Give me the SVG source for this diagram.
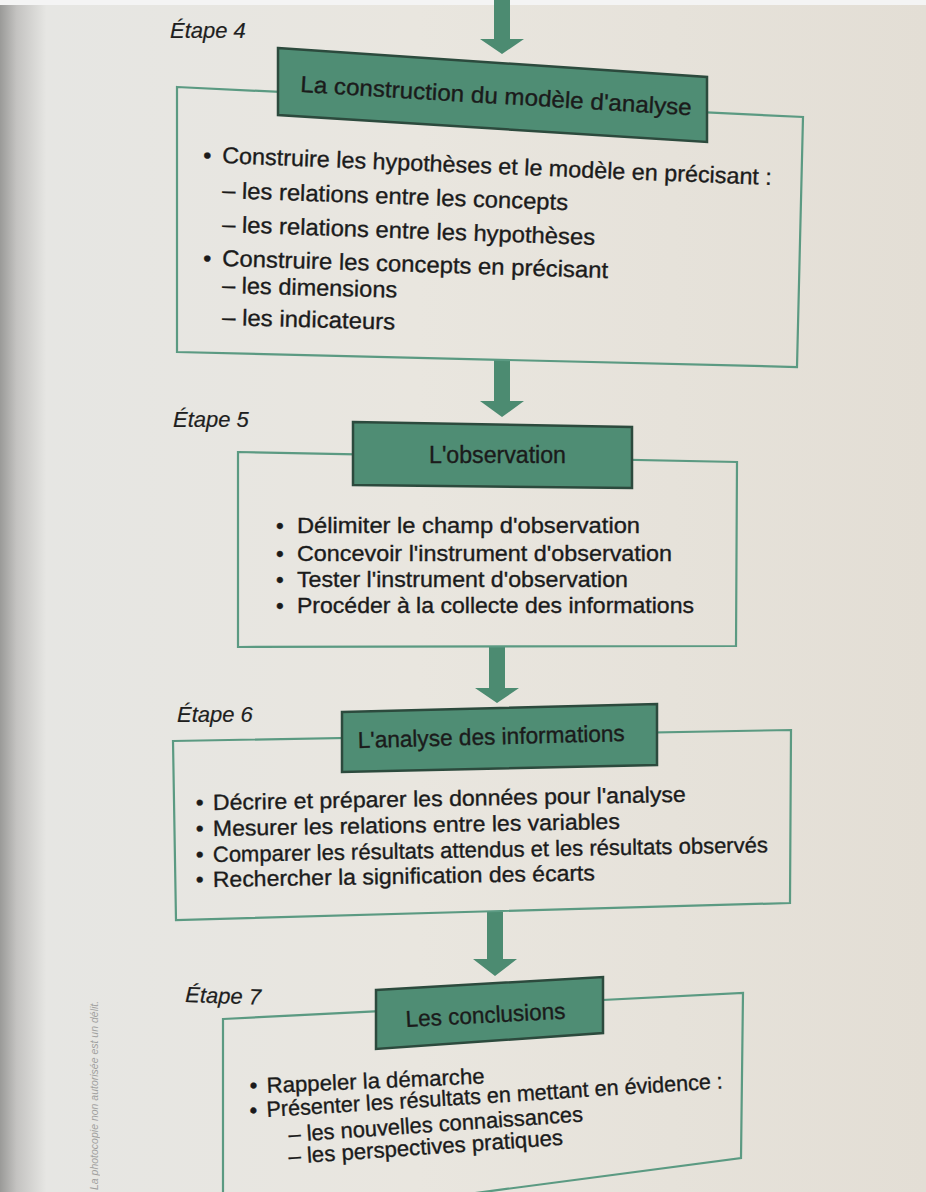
<svg xmlns="http://www.w3.org/2000/svg" width="926" height="1192" viewBox="0 0 926 1192">
<defs>
<linearGradient id="page" x1="0" y1="0" x2="1" y2="0">
<stop offset="0" stop-color="#9a9a98"/>
<stop offset="0.018" stop-color="#c4c3c1"/>
<stop offset="0.05" stop-color="#e6e6e3"/>
<stop offset="0.45" stop-color="#e9e6df"/>
<stop offset="1" stop-color="#e3ded5"/>
</linearGradient>
<style>
.outer{fill:none;stroke:#5b9a82;stroke-width:2.2}
.title{fill:#4f8d74;stroke:#2c4a3d;stroke-width:2.5}
.arrow{fill:#4c8b71}
.t{font-family:"Liberation Sans",Arial,sans-serif;fill:#1b1b1b;stroke:#1b1b1b;stroke-width:0.35}
.c4{font-size:23px}
.c{font-size:22px}
.h{font-size:23px}
.e{font-family:"Liberation Sans",Arial,sans-serif;font-style:italic;font-size:22px;fill:#1e1e1e;stroke:#1e1e1e;stroke-width:0.2}
</style>
</defs>
<rect x="0" y="0" width="926" height="1192" fill="url(#page)"/>
<rect x="0" y="0" width="926" height="5" fill="#f4f4f4"/>
<text x="0" y="0" transform="translate(98,1190) rotate(-90)" font-family="Liberation Sans, Arial, sans-serif" font-size="10.5" font-style="italic" fill="#7a7a7a" opacity="0.65">La photocopie non autorisée est un délit.</text>

<g id="connectors">
<polygon class="arrow" points="494,0 510,0 510,39 524,39 502,54 480,39 494,39"/>
<polygon class="arrow" points="494,360 510,360 510,401 524,401 502,417 480,401 494,401"/>
<polygon class="arrow" points="489,647 505,647 505,688 519,688 497,703 475,688 489,688"/>
<polygon class="arrow" points="487,912 503,912 503,959 517,959 495,976 473,959 487,959"/>
</g>

<g id="step4">
<text class="e" x="170" y="38">Étape 4</text>
<polygon class="outer" points="177,87 803,117 797,367 177,352"/>
<polygon class="title" points="278,48 707,77 707,142 278,115"/>
<text class="t h" x="300" y="92" transform="rotate(3.4 300 92)" textLength="392" lengthAdjust="spacingAndGlyphs">La construction du modèle d'analyse</text>
<g class="t c4">
<text x="203" y="163" transform="rotate(2.3 203 163)">•</text>
<text x="222" y="163" transform="rotate(2.3 222 163)" textLength="550" lengthAdjust="spacingAndGlyphs">Construire les hypothèses et le modèle en précisant :</text>
<text x="222" y="198" transform="rotate(2 222 198)" textLength="346" lengthAdjust="spacingAndGlyphs">– les relations entre les concepts</text>
<text x="222" y="232" transform="rotate(2 222 232)" textLength="373" lengthAdjust="spacingAndGlyphs">– les relations entre les hypothèses</text>
<text x="203" y="266" transform="rotate(1.8 203 266)">•</text>
<text x="222" y="266" transform="rotate(1.8 222 266)" textLength="386" lengthAdjust="spacingAndGlyphs">Construire les concepts en précisant</text>
<text x="222" y="293" transform="rotate(1.5 222 293)" textLength="175" lengthAdjust="spacingAndGlyphs">– les dimensions</text>
<text x="222" y="325" transform="rotate(1.5 222 325)" textLength="173" lengthAdjust="spacingAndGlyphs">– les indicateurs</text>
</g>
</g>

<g id="step5">
<text class="e" x="173" y="427">Étape 5</text>
<polygon class="outer" points="238,452 737,462 736,646 238,647"/>
<polygon class="title" points="353,422 632,427 632,488 353,485"/>
<text class="t h" x="429" y="463" textLength="137" lengthAdjust="spacingAndGlyphs">L'observation</text>
<g class="t c">
<text x="276" y="533">•</text>
<text x="297" y="533" textLength="343" lengthAdjust="spacingAndGlyphs">Délimiter le champ d'observation</text>
<text x="276" y="561">•</text>
<text x="297" y="561" textLength="375" lengthAdjust="spacingAndGlyphs">Concevoir l'instrument d'observation</text>
<text x="276" y="587">•</text>
<text x="297" y="587" textLength="331" lengthAdjust="spacingAndGlyphs">Tester l'instrument d'observation</text>
<text x="276" y="613">•</text>
<text x="297" y="613" textLength="397" lengthAdjust="spacingAndGlyphs">Procéder à la collecte des informations</text>
</g>
</g>

<g id="step6">
<text class="e" x="177" y="722">Étape 6</text>
<polygon class="outer" points="173,741 791,730 790,903 176,920"/>
<polygon class="title" points="342,712 657,704 657,765 342,772"/>
<text class="t h" x="358" y="748" transform="rotate(-1.5 358 748)" textLength="267" lengthAdjust="spacingAndGlyphs">L'analyse des informations</text>
<g class="t c">
<text x="196" y="810" transform="rotate(-1 196 810)">•</text>
<text x="213" y="810" transform="rotate(-1 213 810)" textLength="473" lengthAdjust="spacingAndGlyphs">Décrire et préparer les données pour l'analyse</text>
<text x="196" y="836" transform="rotate(-1 196 836)">•</text>
<text x="213" y="836" transform="rotate(-1 213 836)" textLength="407" lengthAdjust="spacingAndGlyphs">Mesurer les relations entre les variables</text>
<text x="196" y="862" transform="rotate(-1 196 862)">•</text>
<text x="213" y="862" transform="rotate(-1 213 862)" textLength="555" lengthAdjust="spacingAndGlyphs">Comparer les résultats attendus et les résultats observés</text>
<text x="196" y="887" transform="rotate(-1 196 887)">•</text>
<text x="213" y="887" transform="rotate(-1 213 887)" textLength="382" lengthAdjust="spacingAndGlyphs">Rechercher la signification des écarts</text>
</g>
</g>

<g id="step7">
<text class="e" x="185" y="1002" transform="rotate(2 185 1002)">Étape 7</text>
<polygon class="outer" points="223,1019 743,993 741,1158 400,1203 223,1226"/>
<polygon class="title" points="376,990 603,977 603,1033 376,1049"/>
<text class="t h" x="406" y="1027" transform="rotate(-3 406 1027)" textLength="160" lengthAdjust="spacingAndGlyphs">Les conclusions</text>
<g class="t c">
<text x="250" y="1093" transform="rotate(-2.5 250 1093)">•</text>
<text x="267" y="1093" transform="rotate(-2.5 267 1093)" textLength="218" lengthAdjust="spacingAndGlyphs">Rappeler la démarche</text>
<text x="250" y="1118" transform="rotate(-3.6 250 1118)">•</text>
<text x="267" y="1117" transform="rotate(-3.6 267 1117)" textLength="457" lengthAdjust="spacingAndGlyphs">Présenter les résultats en mettant en évidence :</text>
<text x="289" y="1142" transform="rotate(-4 289 1142)" textLength="295" lengthAdjust="spacingAndGlyphs">– les nouvelles connaissances</text>
<text x="289" y="1164" transform="rotate(-4 289 1164)" textLength="275" lengthAdjust="spacingAndGlyphs">– les perspectives pratiques</text>
</g>
</g>
</svg>
